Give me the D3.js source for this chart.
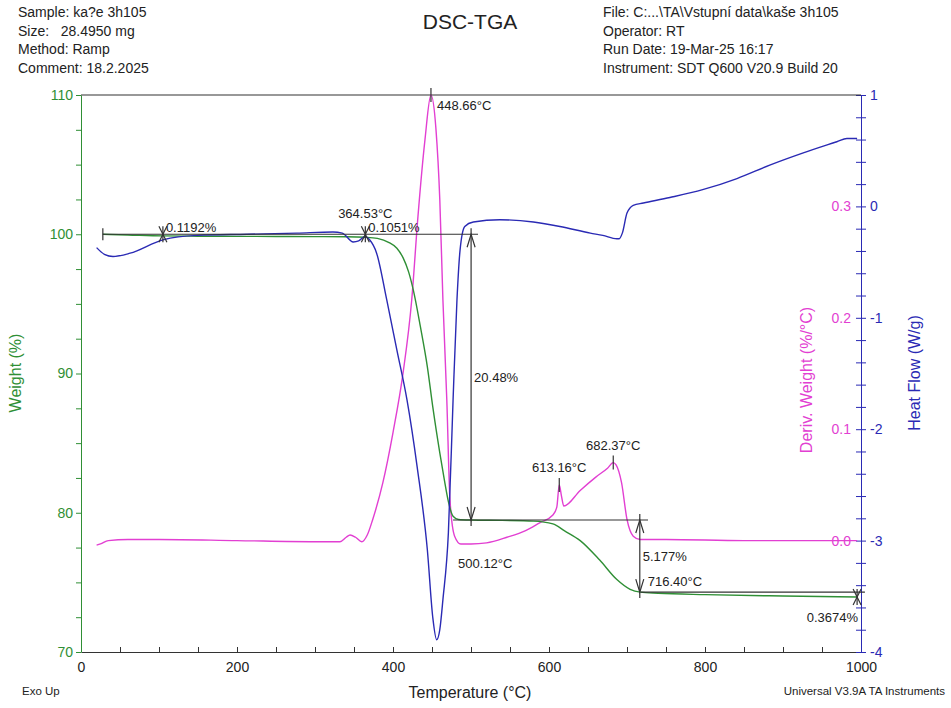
<!DOCTYPE html>
<html lang="en"><head>
<meta charset="UTF-8">
<title>DSC-TGA</title>
<script src="https://cdn.jsdelivr.net/npm/d3@7"></script>
<style>
body { margin: 0; background: #fff; }
svg text { font-family: "Liberation Sans", Arial, sans-serif; }
</style>
</head>
<body>
<script>
var width = 951, height = 708;

// TGA weight (%) vs temperature
var weightTemp = [28, 60, 105, 150, 200, 250, 300, 340, 365, 380, 395, 405, 413, 420, 426, 435, 444, 451, 460, 466, 471, 477, 484, 500, 540, 580, 605, 620, 640, 665, 687, 704, 717, 740, 800, 900, 995];
var weightVal  = [100.0, 99.95, 99.88, 99.86, 99.85, 99.84, 99.83, 99.82, 99.78, 99.7, 99.4, 99.0, 98.3, 97.3, 96.0, 93.4, 90.5, 87.6, 84.3, 82.3, 80.8, 79.75, 79.52, 79.48, 79.45, 79.4, 79.2, 78.7, 78.0, 76.6, 75.2, 74.5, 74.3, 74.22, 74.12, 74.02, 73.95];

// heat flow (W/g)
var heatTemp = [20, 30, 41, 63, 105, 149, 213, 277, 323, 335, 349, 356, 364, 370, 379, 392, 405, 418, 431, 444, 451, 456, 460, 464, 471, 477, 482, 486, 492, 503, 537, 580, 614, 653, 669, 687, 690, 694, 700, 708, 721, 755, 797, 841, 883, 926, 969, 982, 995];
var heatVal  = [-0.37, -0.43, -0.45, -0.42, -0.30, -0.26, -0.25, -0.24, -0.23, -0.24, -0.32, -0.31, -0.27, -0.30, -0.42, -0.84, -1.29, -1.74, -2.34, -3.08, -3.69, -3.89, -3.80, -3.53, -2.93, -1.74, -0.84, -0.39, -0.18, -0.14, -0.12, -0.14, -0.18, -0.24, -0.26, -0.29, -0.29, -0.24, -0.06, 0.01, 0.03, 0.08, 0.15, 0.25, 0.37, 0.48, 0.58, 0.61, 0.61];

// derivative weight (%/°C)
var derivTemp = [20, 25, 35, 60, 100, 200, 300, 332, 340, 345, 352, 360, 367, 374, 387, 400, 413, 424, 432, 441, 448.66, 455, 460, 464, 469, 473, 479, 487, 500, 520, 546, 570, 588, 605, 610, 613.16, 616, 619, 640, 660, 675, 682.37, 686, 693, 700, 708, 717, 750, 850, 995];
var derivVal  = [-0.004, -0.003, 0.0, 0.001, 0.001, 0.0, -0.001, -0.001, 0.003, 0.005, 0.003, -0.001, 0.005, 0.019, 0.052, 0.097, 0.151, 0.216, 0.291, 0.36, 0.400, 0.37, 0.306, 0.216, 0.126, 0.037, 0.004, -0.003, -0.003, -0.002, 0.003, 0.009, 0.016, 0.023, 0.03, 0.050, 0.04, 0.031, 0.045, 0.057, 0.065, 0.070, 0.068, 0.052, 0.019, 0.004, 0.001, 0.001, 0.0, 0.0];

// analysis results
var onsetTemps = [105, 364.53];
var onsetLabels = ["0.1192%", "0.1051%"];
var stepTemps = [500.12, 716.40];
var stepTop = [100.0, 79.48];
var stepBottom = [79.48, 74.30];
var stepLabels = ["20.48%", "5.177%"];
var stepTempLabels = ["500.12°C", "716.40°C"];
var levelFrom = [28, 477, 718];
var levelTo = [509, 727, 1005];
var levelVal = [100.0, 79.48, 74.30];
var peakTemps = [448.66, 613.16, 682.37];
var peakVals = [0.400, 0.050, 0.070];
var residueTemp = 995, residueVal = 73.95, residueLabel = "0.3674%";

var headerLeft = ["Sample: ka?e 3h105", "Size:   28.4950 mg", "Method: Ramp", "Comment: 18.2.2025"];
var headerRight = ["File: C:...\\TA\\Vstupní data\\kaše 3h105", "Operator: RT", "Run Date: 19-Mar-25 16:17", "Instrument: SDT Q600 V20.9 Build 20"];

var green = "#2f8f35", blue = "#2a2ab4", pink = "#e23fd2", ink = "#333";

var svg = d3.select("body").append("svg")
  .attr("width", width).attr("height", height);

var x = d3.scaleLinear().domain([0, 1000]).range([81, 861]);
var yW = d3.scaleLinear().domain([70, 110]).range([652, 95]);
var yH = d3.scaleLinear().domain([-4, 1]).range([652, 95]);
var yD = d3.scaleLinear().domain([-0.1, 0.4]).range([652, 95]);

function isWhole(v, step) { return Math.abs(v / step - Math.round(v / step)) < 1e-6; }

// header
svg.selectAll(".hl").data(headerLeft).enter().append("text")
  .attr("x", 18).attr("y", (d, i) => 17 + i * 18.5)
  .attr("font-size", 14).attr("fill", "#222").style("white-space", "pre")
  .text(d => d);
svg.selectAll(".hr").data(headerRight).enter().append("text")
  .attr("x", 603).attr("y", (d, i) => 17 + i * 18.5)
  .attr("font-size", 14).attr("fill", "#222")
  .text(d => d);
svg.append("text").attr("x", 470).attr("y", 29).attr("text-anchor", "middle")
  .attr("font-size", 21).attr("fill", "#222").text("DSC-TGA");

// axes
var xAxis = d3.axisBottom(x).tickValues(d3.range(0, 1001, 50))
  .tickSize(-5).tickSizeOuter(0).tickPadding(10)
  .tickFormat(d => d % 200 === 0 ? d : "");
var gx = svg.append("g").attr("transform", "translate(0,652)").call(xAxis);
gx.selectAll("text").attr("font-size", 14).attr("fill", "#222");
gx.selectAll("line, path").attr("stroke", ink);

var lAxis = d3.axisLeft(yW).tickValues(d3.range(70, 110.01, 2.5))
  .tickSize(5).tickSizeOuter(0).tickPadding(3)
  .tickFormat(d => isWhole(d, 10) ? d : "");
var gl = svg.append("g").attr("transform", "translate(81,0)").call(lAxis);
gl.selectAll("text").attr("font-size", 14).attr("fill", green);
gl.selectAll("line, path").attr("stroke", green);

var rAxis = d3.axisRight(yH).tickValues(d3.range(-4, 1.001, 0.2))
  .tickSize(5).tickSizeOuter(0).tickPadding(4)
  .tickFormat(d => isWhole(d, 1) ? Math.round(d) : "");
var gr = svg.append("g").attr("transform", "translate(861,0)").call(rAxis);
gr.selectAll(".tick").append("line").attr("x2", -5);
gr.selectAll("text").attr("font-size", 14).attr("fill", blue);
gr.selectAll("line, path").attr("stroke", blue);

var dAxis = d3.axisLeft(yD).tickValues([0, 0.1, 0.2, 0.3])
  .tickSize(0).tickPadding(10).tickFormat(d3.format(".1f"));
var gd = svg.append("g").attr("transform", "translate(861,0)").call(dAxis);
gd.select(".domain").remove();
gd.selectAll("text").attr("font-size", 14).attr("fill", pink);

// top frame line
svg.append("line").attr("x1", x(0)).attr("x2", x(1000))
  .attr("y1", yW(110)).attr("y2", yW(110)).attr("stroke", ink).attr("stroke-width", 1.2);

// axis titles
svg.append("text").attr("transform", "translate(21,373) rotate(-90)")
  .attr("text-anchor", "middle").attr("font-size", 16).attr("fill", green).text("Weight (%)");
svg.append("text").attr("transform", "translate(812,380) rotate(-90)")
  .attr("text-anchor", "middle").attr("font-size", 16).attr("fill", pink).text("Deriv. Weight (%/°C)");
svg.append("text").attr("transform", "translate(920,373) rotate(-90)")
  .attr("text-anchor", "middle").attr("font-size", 16).attr("fill", blue).text("Heat Flow (W/g)");
svg.append("text").attr("x", 470).attr("y", 698).attr("text-anchor", "middle")
  .attr("font-size", 16).attr("fill", "#222").text("Temperature (°C)");
svg.append("text").attr("x", 22).attr("y", 695).attr("font-size", 11.5).attr("fill", "#222").text("Exo Up");
svg.append("text").attr("x", 945).attr("y", 695).attr("text-anchor", "end")
  .attr("font-size", 11.5).attr("fill", "#222").text("Universal V3.9A TA Instruments");

// curves
function drawCurve(ts, vs, yScale, color) {
  var pts = ts.map((t, i) => [t, vs[i]]);
  svg.append("path").datum(pts)
    .attr("fill", "none").attr("stroke", color).attr("stroke-width", 1.4)
    .attr("d", d3.line().x(d => x(d[0])).y(d => yScale(d[1])).curve(d3.curveMonotoneX));
}
drawCurve(derivTemp, derivVal, yD, pink);
drawCurve(weightTemp, weightVal, yW, green);
drawCurve(heatTemp, heatVal, yH, blue);

// annotations
var ann = svg.append("g").attr("stroke", ink).attr("stroke-width", 1.2).attr("fill", "none");
var annText = svg.append("g").attr("font-size", 13).attr("fill", "#222");

function seg(x1, y1, x2, y2) {
  ann.append("line").attr("x1", x1).attr("y1", y1).attr("x2", x2).attr("y2", y2);
}
function marker(cx, cy) {
  seg(cx, cy - 8, cx, cy + 8);
  seg(cx - 4, cy - 8, cx + 4, cy + 8);
  seg(cx + 4, cy - 8, cx - 4, cy + 8);
}

levelVal.forEach(function(v, i) {
  seg(x(levelFrom[i]), yW(v), x(levelTo[i]), yW(v));
});
seg(x(levelFrom[0]), yW(levelVal[0]) - 6, x(levelFrom[0]), yW(levelVal[0]) + 6);

onsetTemps.forEach(function(t, i) {
  marker(x(t), yW(100));
  annText.append("text").attr("x", x(t) + 3).attr("y", yW(100) - 2).text(onsetLabels[i]);
});
annText.append("text").attr("x", x(onsetTemps[1])).attr("y", yW(100) - 16)
  .attr("text-anchor", "middle").text(onsetTemps[1].toFixed(2) + "°C");

stepTemps.forEach(function(t, i) {
  var sx = x(t), y1 = yW(stepTop[i]), y2 = yW(stepBottom[i]);
  seg(sx, y1 - 6, sx, y2 + 6);
  ann.append("path").attr("d", "M" + (sx - 4) + "," + (y1 + 13) + "L" + sx + "," + y1 + "L" + (sx + 4) + "," + (y1 + 13));
  ann.append("path").attr("d", "M" + (sx - 4) + "," + (y2 - 13) + "L" + sx + "," + y2 + "L" + (sx + 4) + "," + (y2 - 13));
  annText.append("text").attr("x", sx + 3).attr("y", (y1 + y2) / 2 + 5).text(stepLabels[i]);
});
annText.append("text").attr("x", x(stepTemps[0]) - 13).attr("y", yW(stepBottom[0]) + 48).text(stepTempLabels[0]);
annText.append("text").attr("x", x(stepTemps[1]) + 8).attr("y", yW(stepBottom[1]) - 6).text(stepTempLabels[1]);

marker(x(residueTemp), yW(residueVal));
annText.append("text").attr("x", x(residueTemp) + 1).attr("y", yW(residueVal) + 25)
  .attr("text-anchor", "end").text(residueLabel);

peakTemps.forEach(function(t, i) {
  var px = x(t), py = yD(peakVals[i]);
  seg(px, py - 7, px, py + 7);
  if (i === 0) {
    annText.append("text").attr("x", px + 6).attr("y", py + 15).text(t.toFixed(2) + "°C");
  } else {
    annText.append("text").attr("x", px).attr("y", py - 13).attr("text-anchor", "middle").text(t.toFixed(2) + "°C");
  }
});
</script>
</body></html>
